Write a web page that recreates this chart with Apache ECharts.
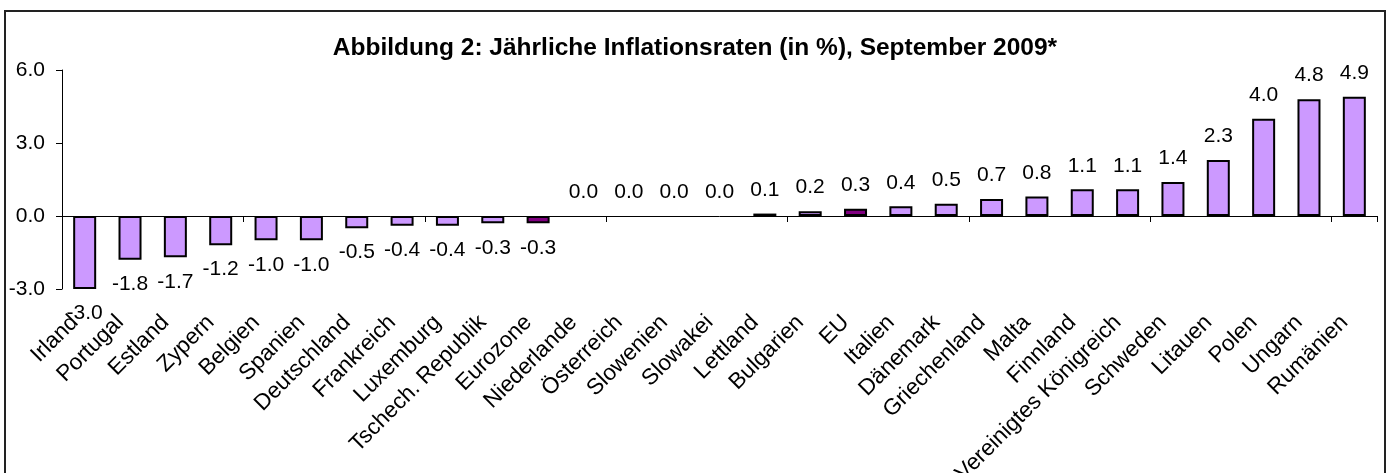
<!DOCTYPE html>
<html>
<head>
<meta charset="utf-8">
<title>Inflationsraten September 2009</title>
<script src="https://cdn.jsdelivr.net/npm/echarts@6.0.0/dist/echarts.min.js"></script>
<style>
	html, body {margin:0; padding:0; background:#fff;}
	#main {width:1390px; height:473px;}
</style>
</head>
<body>
<div id="main"></div>
<script>
// Länder (x-Achse)
var laender = ['Irland','Portugal','Estland','Zypern','Belgien','Spanien','Deutschland','Frankreich',
	'Luxemburg','Tschech. Republik','Eurozone','Niederlande','Österreich','Slowenien','Slowakei',
	'Lettland','Bulgarien','EU','Italien','Dänemark','Griechenland','Malta','Finnland',
	'Vereinigtes Königreich','Schweden','Litauen','Polen','Ungarn','Rumänien'];
// Jährliche Inflationsraten in %
var raten = [-3.0,-1.8,-1.7,-1.2,-1.0,-1.0,-0.5,-0.4,-0.4,-0.3,-0.3,0.0,0.0,0.0,0.0,
	0.1,0.2,0.3,0.4,0.5,0.7,0.8,1.1,1.1,1.4,2.3,4.0,4.8,4.9];
// hervorgehobene Aggregate
var aggregate = ['Eurozone','EU'];
// y-Achse
var yTicks = [-3, 0, 3, 6];

var fontName = '"Liberation Sans", Arial, sans-serif';

window.onload = function(){
	buildEchart();
};

/**
 * Balken mit Farbe und Beschriftung
 */
function buildBars(){
	var list = [];
	for(var i=0;i<raten.length;i++){
		var v = raten[i];
		var item = {
			value: v,
			itemStyle: {
				color: aggregate.indexOf(laender[i]) >= 0 ? '#800080' : '#CC99FF'
			},
			label: v < 0 ? {position: 'bottom', distance: 14} : {position: 'top', distance: 13}
		};
		if(v == 0){
			item.itemStyle.borderWidth = 0;
		}
		list.push(item);
	}
	return list;
}

function buildEchart(){
	var myChart = echarts.init(document.getElementById('main'));

	var option = {
		animation: false,
		backgroundColor: '#fff',
		textStyle: {fontFamily: fontName, color: '#000'},
		title: {
			text: 'Abbildung 2: Jährliche Inflationsraten (in %), September 2009*',
			left: 'center',
			top: 31,
			textStyle: {fontFamily: fontName, fontSize: 24.5, fontWeight: 'bold', color: '#000'}
		},
		graphic: [{
			type: 'rect',
			shape: {x: 5, y: 11, width: 1380, height: 480},
			style: {fill: 'none', stroke: '#222', lineWidth: 2},
			silent: true
		}],
		grid: {left: 62, right: 13, top: 70, bottom: 184, outerBoundsMode: 'none'},
		xAxis: [{
			type: 'category',
			data: laender,
			axisLine: {onZero: true, lineStyle: {color: '#000', width: 1}},
			axisTick: {show: true, length: 6, lineStyle: {color: '#000'}},
			axisLabel: {show: false}
		},{
			// nur Beschriftung unten
			type: 'category',
			data: laender,
			position: 'bottom',
			axisLine: {show: false, onZero: false},
			axisTick: {show: false},
			axisLabel: {
				rotate: 45,
				interval: 0,
				margin: 20,
				padding: [0, 14, 0, 0],
				fontSize: 22.5,
				fontFamily: fontName,
				color: '#000'
			}
		}],
		yAxis: {
			type: 'value',
			min: yTicks[0],
			max: yTicks[yTicks.length-1],
			interval: 3,
			axisLine: {show: true, lineStyle: {color: '#000', width: 1}},
			axisTick: {show: true, length: 6, lineStyle: {color: '#000'}},
			splitLine: {show: false},
			axisLabel: {
				margin: 17,
				fontSize: 21,
				fontFamily: fontName,
				color: '#000',
				formatter: function(v){ return v.toFixed(1); }
			}
		},
		series: [{
			type: 'bar',
			xAxisIndex: 0,
			barWidth: 23,
			data: buildBars(),
			itemStyle: {borderColor: '#000', borderWidth: 2},
			label: {
				show: true,
				fontSize: 21,
				fontFamily: fontName,
				color: '#000',
				formatter: function(p){ return p.value.toFixed(1); }
			}
		}]
	};

	myChart.setOption(option);
}
</script>
</body>
</html>
